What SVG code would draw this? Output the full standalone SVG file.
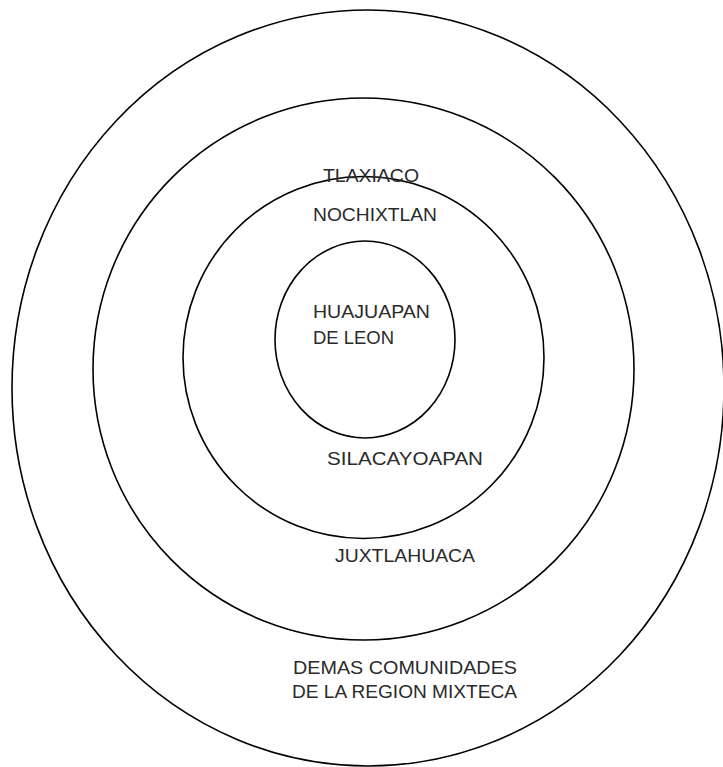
<svg xmlns="http://www.w3.org/2000/svg" width="723" height="767" viewBox="0 0 723 767">
<style>
.ring{fill:none;stroke:#000;stroke-width:1.6}
.t{font-family:"Liberation Sans",Arial,sans-serif;font-size:19px;fill:#2a2a2a}
</style>
<rect width="723" height="767" fill="#fff"/>
<g id="ring-outer"><ellipse class="ring" cx="368" cy="388" rx="356" ry="378"/></g>
<g id="ring-2"><ellipse class="ring" cx="363.5" cy="369" rx="270.5" ry="271"/></g>
<g id="ring-3"><ellipse class="ring" cx="363.5" cy="357.5" rx="180.5" ry="181"/></g>
<g id="ring-inner"><ellipse class="ring" cx="365" cy="339.5" rx="90" ry="98.5"/></g>
<g id="labels">
<text class="t" x="323" y="182" textLength="96" lengthAdjust="spacingAndGlyphs">TLAXIACO</text>
<text class="t" x="313" y="221" textLength="124" lengthAdjust="spacingAndGlyphs">NOCHIXTLAN</text>
<text class="t" x="313" y="318" textLength="117" lengthAdjust="spacingAndGlyphs">HUAJUAPAN</text>
<text class="t" x="313" y="344" textLength="81" lengthAdjust="spacingAndGlyphs">DE LEON</text>
<text class="t" x="327" y="465" textLength="156" lengthAdjust="spacingAndGlyphs">SILACAYOAPAN</text>
<text class="t" x="335" y="562" textLength="140" lengthAdjust="spacingAndGlyphs">JUXTLAHUACA</text>
<text class="t" x="293" y="674" textLength="224" lengthAdjust="spacingAndGlyphs">DEMAS COMUNIDADES</text>
<text class="t" x="292" y="698" textLength="225" lengthAdjust="spacingAndGlyphs">DE LA REGION MIXTECA</text>
</g>
</svg>
